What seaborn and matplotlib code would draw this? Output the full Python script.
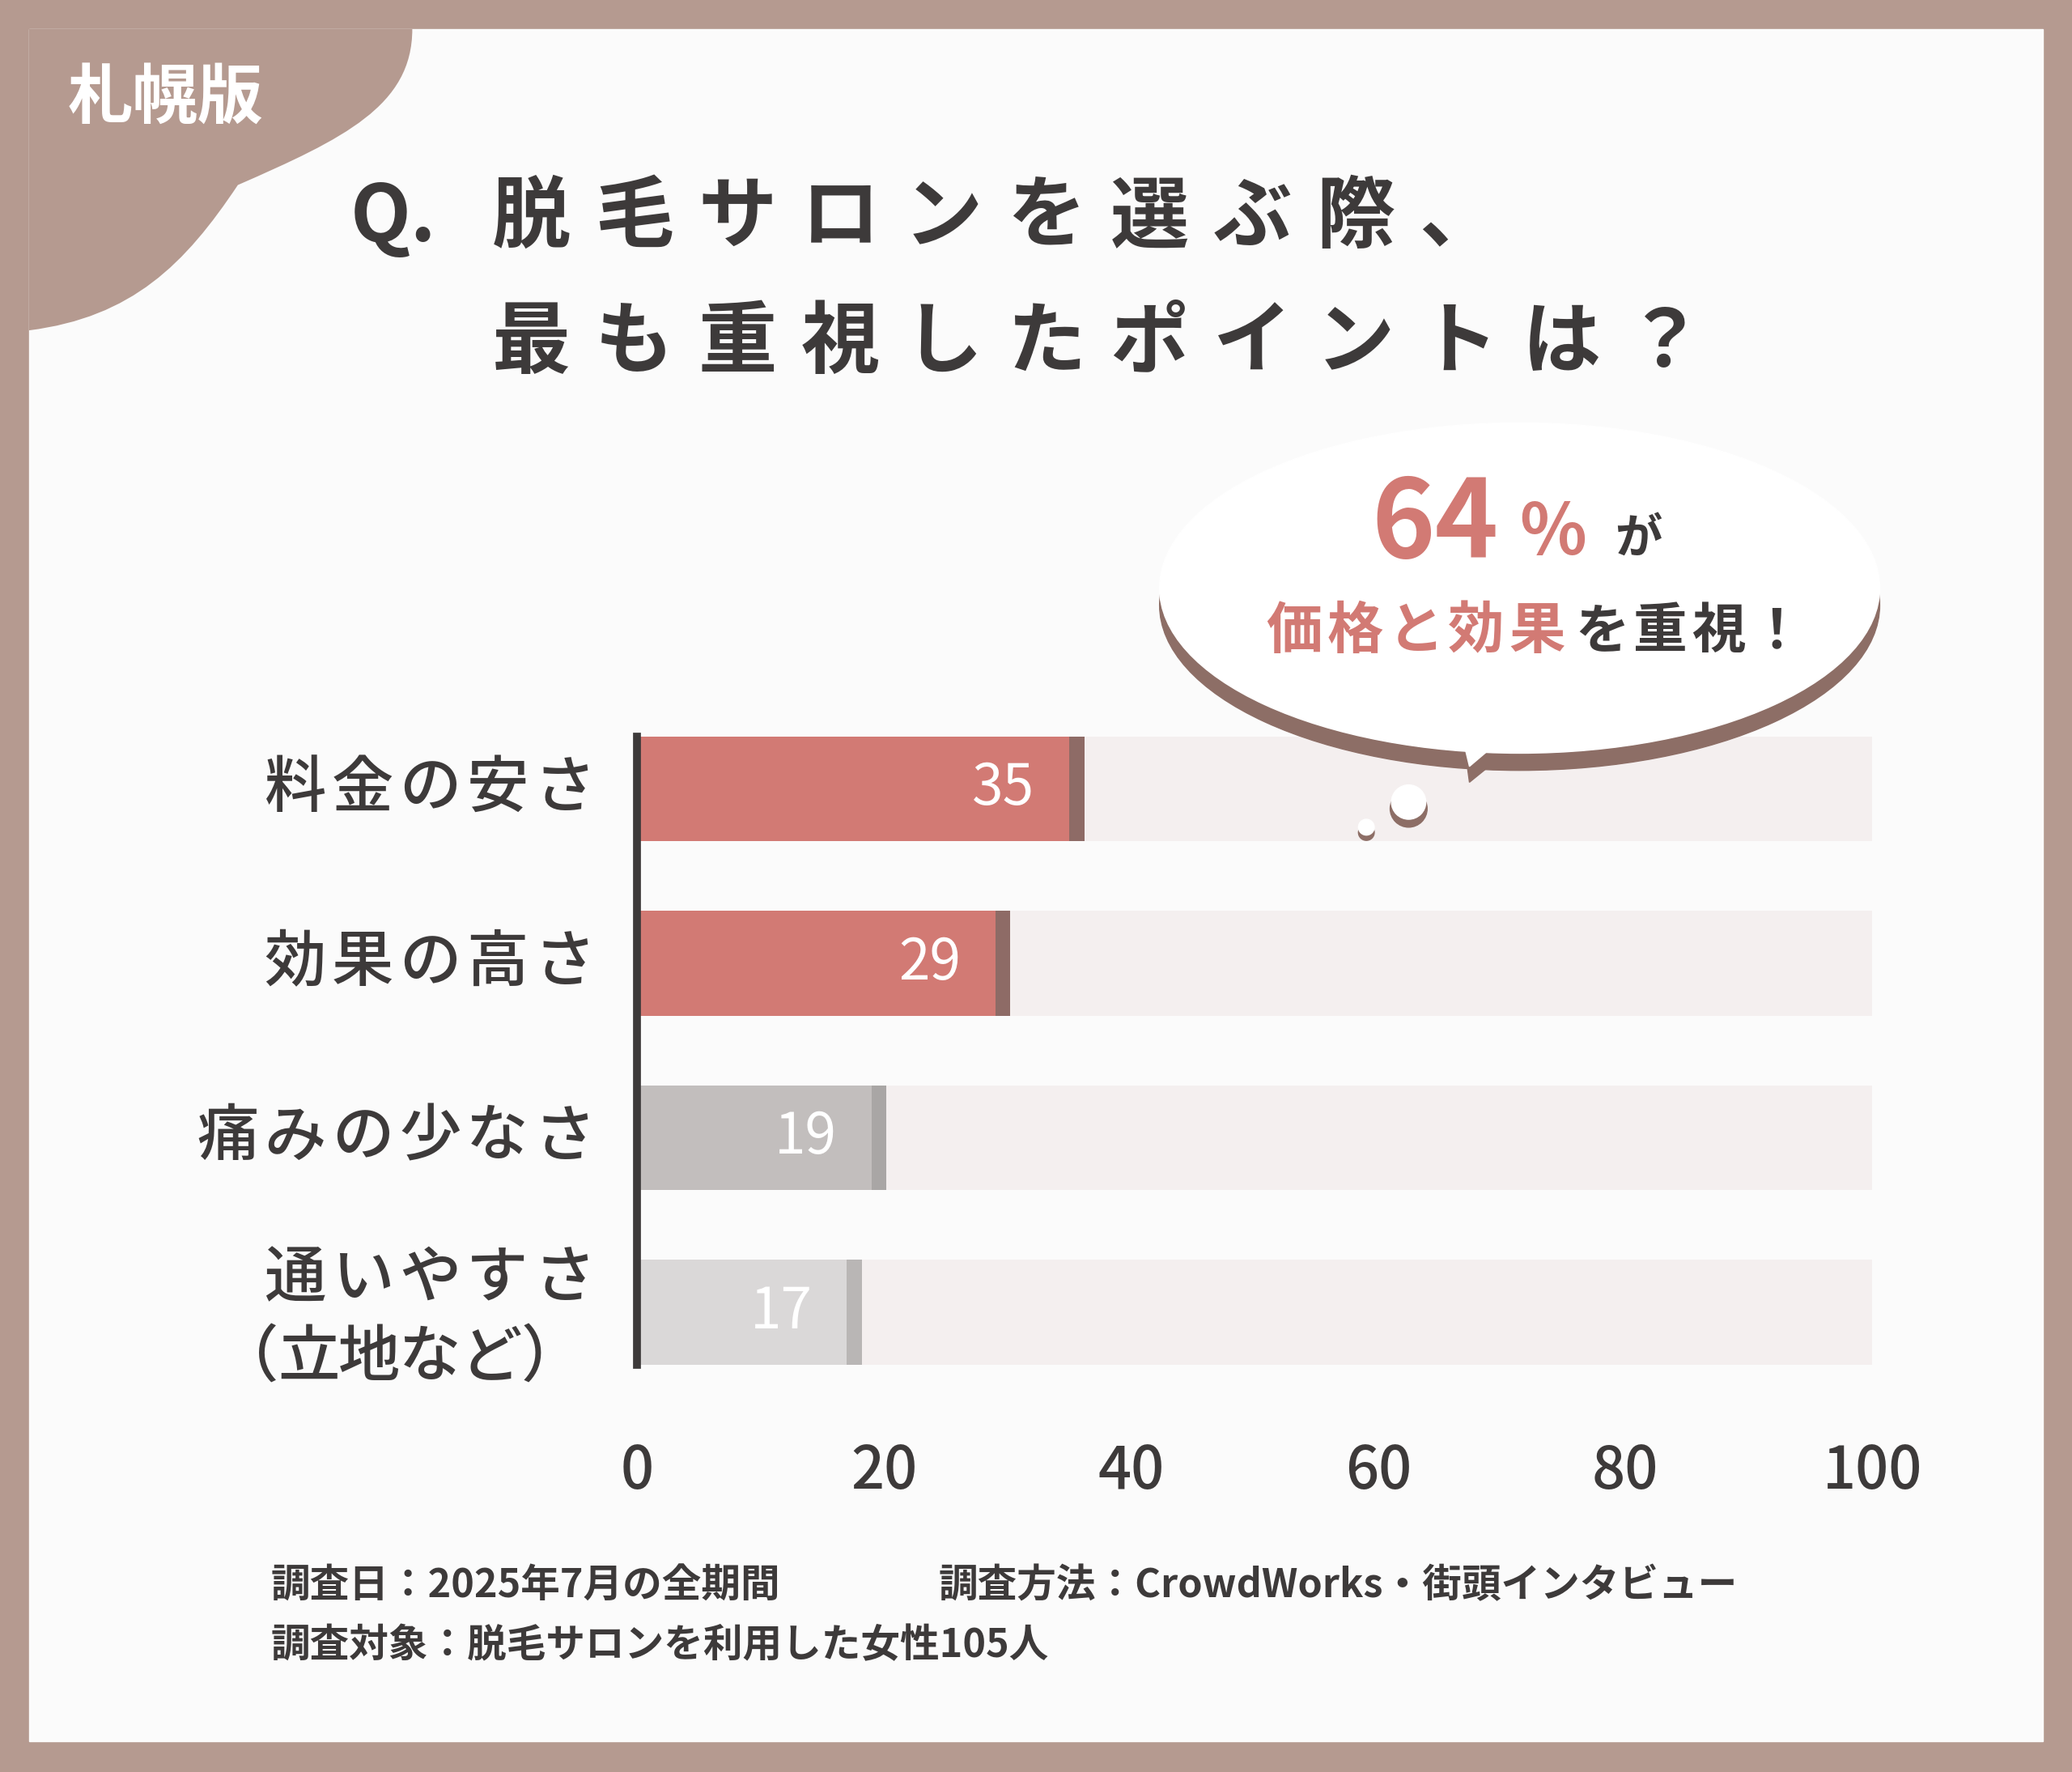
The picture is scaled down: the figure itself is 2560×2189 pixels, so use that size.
import matplotlib
matplotlib.use("Agg")
import matplotlib.pyplot as plt
import seaborn as sns
import pandas as pd
from matplotlib.patches import Ellipse, Circle, PathPatch, Rectangle, Polygon
from matplotlib.path import Path

plt.rcParams["font.family"] = "Noto Sans CJK JP"

categories = ["料金の安さ", "効果の高さ", "痛みの少なさ", "通いやすさ\n（立地など）"]
values = [35, 29, 19, 17]
bar_colors = ["#d27a74", "#d27a74", "#c2bebd", "#dad8d8"]
edge_colors = ["#8e6b66", "#8e6b66", "#a9a6a5", "#b9b6b5"]
xticks = [0, 20, 40, 60, 80, 100]

W, H = 1568, 1341
RED = "#d27a74"
DARK = "#3d3a3a"
BROWN = "#b59a90"


def spaced(ax, x, y, text, adv, ha="left", **kw):
    # place characters one by one with a fixed advance (letter spacing)
    if ha == "right":
        x = x - adv * len(text)
    for i, ch in enumerate(text):
        ax.text(x + i * adv, y, ch, va="center", ha="left", **kw)


fig = plt.figure(figsize=(25.6, 21.89), dpi=100)
fig.patch.set_facecolor(BROWN)

# full-figure canvas in reference pixel coords
bg = fig.add_axes([0, 0, 1, 1], zorder=0)
bg.set_xlim(0, W)
bg.set_ylim(H, 0)
bg.axis("off")
bg.add_patch(Rectangle((22, 22), 1524, 1296, color="#fbfbfb"))
blob = Path([(22, 22), (312, 22), (312, 80), (260, 105), (180, 140),
             (140, 200), (100, 240), (22, 250), (22, 22)],
            [Path.MOVETO, Path.LINETO, Path.CURVE4, Path.CURVE4, Path.CURVE4,
             Path.CURVE4, Path.CURVE4, Path.CURVE4, Path.CLOSEPOLY])
bg.add_patch(PathPatch(blob, color=BROWN, lw=0))
bg.text(125, 75, "札幌版", color="white", fontsize=58, weight="bold", ha="center", va="center")
bg.text(265, 165, "Q.", color=DARK, fontsize=70, weight="bold", va="center")
spaced(bg, 372, 165, "脱毛サロンを選ぶ際、", 78, color=DARK, fontsize=70, weight="bold")
spaced(bg, 372, 260, "最も重視したポイントは？", 78, color=DARK, fontsize=70, weight="bold")

bg.text(205, 1200, "調査日：2025年7月の全期間", color=DARK, fontsize=35, weight="bold", va="center")
bg.text(710, 1200, "調査方法：CrowdWorks・街頭インタビュー", color=DARK, fontsize=35, weight="bold", va="center")
bg.text(205, 1245, "調査対象：脱毛サロンを利用した女性105人", color=DARK, fontsize=35, weight="bold", va="center")

# category labels (letter-spaced)
label_y = [597, 729, 861, 968]
for lab, y in zip(categories, label_y):
    lines = lab.split("\n")
    spaced(bg, 455, y, lines[0], 51, ha="right", color=DARK, fontsize=55, weight="medium")
    if len(lines) > 1:
        spaced(bg, 440, y + 60, lines[1], 46, ha="right", color=DARK, fontsize=55, weight="medium")

# bar chart
ax = fig.add_axes([482 / W, 1 - 1059 / H, 935 / W, 528 / H], zorder=1)
ax.set_facecolor("none")
df = pd.DataFrame({"category": categories, "value": values})
ax.barh(range(4), [101] * 4, height=0.6, color="#e6e1e1", zorder=0)
ax.barh(range(4), [100] * 4, height=0.6, color="#f4efef", zorder=0.5)
ax.barh(range(4), [v + 1.2 for v in values], height=0.6, color=edge_colors, zorder=1)
sns.barplot(data=df, x="value", y="category", hue="category", palette=bar_colors,
            saturation=1, legend=False, orient="h", width=0.6, ax=ax, zorder=2)
for i, v in enumerate(values):
    ax.text(v - 2.8, i, str(v), color="white", fontsize=50, ha="right", va="center", zorder=3)
ax.set_xlim(0, 100)
ax.set_ylim(3.5, -0.5)
ax.set_xticks(xticks)
ax.set_xticklabels([str(t) for t in xticks], fontsize=52, color=DARK, weight="medium")
ax.tick_params(axis="x", length=0, pad=38)
ax.set_yticks([])
ax.set_xlabel("")
ax.set_ylabel("")
for s in ["top", "right", "bottom"]:
    ax.spines[s].set_visible(False)
ax.spines["left"].set_linewidth(7)
ax.spines["left"].set_color(DARK)
ax.spines["left"].set_zorder(5)
ax.spines["left"].set_bounds(-0.3, 3.3)

# speech bubble overlay
ov = fig.add_axes([0, 0, 1, 1], zorder=3)
ov.set_xlim(0, W)
ov.set_ylim(H, 0)
ov.axis("off")
ov.add_patch(Ellipse((1150, 458), 545, 250, color="#8d6e66"))
ov.add_patch(Polygon([(1105, 540), (1112, 592), (1170, 545)], color="#8d6e66"))
ov.add_patch(Ellipse((1150, 445), 545, 250, color="white"))
ov.add_patch(Polygon([(1100, 530), (1112, 580), (1165, 535)], color="white"))
ov.add_patch(Circle((1066, 612), 14, color="#8d6e66"))
ov.add_patch(Circle((1066, 607), 13, color="white"))
ov.add_patch(Circle((1034, 630), 6, color="#8d6e66"))
ov.add_patch(Circle((1034, 626), 6, color="white"))
ov.text(1038, 398, "64", color=RED, fontsize=96, weight="bold", va="center")
ov.text(1150, 404, "%", color=RED, fontsize=62, weight="bold", va="center")
ov.text(1222, 408, "が", color=DARK, fontsize=42, weight="bold", va="center")
spaced(ov, 958, 478, "価格と効果", 46, color=RED, fontsize=50, weight="bold")
spaced(ov, 1192, 478, "を重視！", 44, color=DARK, fontsize=48, weight="bold")

fig.savefig("out.png", dpi=100, facecolor=fig.get_facecolor())
